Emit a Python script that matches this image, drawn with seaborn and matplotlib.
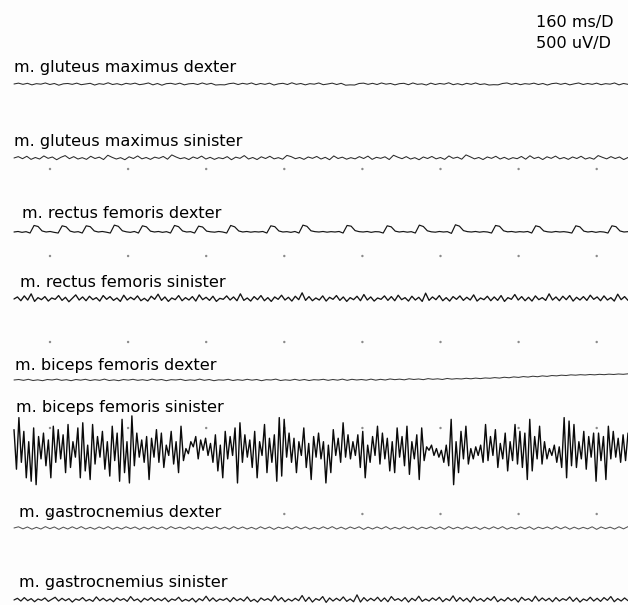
import numpy as np
import pandas as pd
import seaborn as sns
import matplotlib
matplotlib.use("Agg")
import matplotlib.pyplot as plt

# ---------------- data (µV samples) ----------------
labels = ["m. gluteus maximus dexter", "m. gluteus maximus sinister",
          "m. rectus femoris dexter", "m. rectus femoris sinister",
          "m. biceps femoris dexter", "m. biceps femoris sinister",
          "m. gastrocnemius dexter", "m. gastrocnemius sinister"]

gluteus_dex = [0,5,-2,4,-5,2,-1,6,-3,3,-7,1,3,-2,5,-4,0,4,-6,2,-2,7,-3,2,-5,4,-1,5,-4,0,6,-5,3,-7,2,4,-2,5,-5,1,
               3,-3,6,-2,4,-6,-4,-5,2,5,-3,4,-1,6,-4,3,-2,5,-6,1,4,-3,7,-2,3,-5,2,-1,6,-4,0,5,-3,4,-7,-5,-6,3,5,-2,
               4,-3,6,-1,3,-5,2,4,-4,6,-2,1,-6,5,-3,3,-1,7,-4,2,-5,4,-2,6,-3,1,-6,-4,-5,3,6,-2,4,-4,2,-1,5,-3,
               3,-6,2,5,-2,4,-5,1,6,-3,3,-2,5,-4,2,-1,6,-5,3,-2]

gluteus_sin = [0,8,-4,10,-8,3,-6,12,-2,6,-10,4,14,-4,8,-6,2,-8,10,-3,5,-9,16,4,-6,2,-10,7,-3,12,-5,3,-8,5,-2,9,-7,18,6,-4,
               2,-9,6,-3,11,-6,4,-8,2,-4,8,-10,5,-2,14,-6,3,-9,7,-3,10,-5,2,-7,15,8,-4,3,-8,6,-2,9,-6,4,-10,12,-3,5,-7,2,
               -5,8,-3,11,-8,4,-2,7,-9,16,5,-4,8,-6,2,-10,6,-3,9,-5,3,-8,12,-2,5,-7,18,7,-5,3,-9,6,-2,10,-6,4,-8,2,
               -4,9,-7,13,-3,5,-9,7,-2,11,-5,3,-8,6,-3,10,-6,2,-7,14,4,-5,8,-3,6,-9,3]

rectus_dex = [0,3,-2,2,-6, 38,32,6,0, 3,-2,-6, 36,30,5,-1, 2,-6, 36,31,6,0, 3,-1,-6, 40,33,7,1, -2,3,-6,
              36,30,5,0, 3,-2,2,-6, 38,31,6,0, 2,-6, 34,29,5,1, -1,3,0,-6, 38,30,6,0, 3,-1,2,0,3,-6,
              36,31,6,0, 2,-2,3,-6, 40,33,7,2, 0,3,-1,2,0,3,-6, 38,34,8,2, 0,3,-2,2,1,-6, 36,30,5,0,
              3,-1,2,-6, 40,32,7,1, -1,3,0,2,-8, 42,34,8,2, 0,3,-1,2,0,-6, 38,33,7,1, 3,-1,2,0,3,-6,
              36,30,6,1, -1,3,0,2,-1,-6, 36,30,5,0, 3,-2,2,0,-6, 36,31,6,0,2]

rectus_sin = [0,12,-10,18,-6,30,-14,8,-4,14,-12,6,-2,20,-8,10,-16,4,24,-6,12,-10,16,-4,8,-12,20,-2,14,-8,6,-14,22,-6,10,-4,18,-10,4,-12,
              16,-2,28,-8,12,-14,6,-4,20,-10,8,-6,14,-12,24,-4,10,-8,16,-14,4,-2,18,-6,12,-10,30,-8,6,-12,14,-4,20,-10,8,-14,12,-2,22,-6,
              10,-12,16,-4,36,-8,14,-10,6,-6,18,-12,10,-2,20,-8,12,-14,8,-4,16,-10,26,-6,12,-12,6,-2,18,-8,14,-10,22,-4,8,-12,16,-6,10,-14,
              34,-8,12,-4,20,-10,8,-12,14,-2,18,-8,10,-6,24,-12,6,-4,16,-10,12,-8,20,-14,8,-2,26,-6,14,-10,10,-12,18,-4,8,-8,30,-6,12,-10,
              16,-4,20,-12,10,-6,14,-8,22,-2,12,-10,18,-6,8,-12,28,-4,14,-8]

biceps_dex = [0,3,-2,4,-3,1,-4,3,0,5,-2,2,-4,3,-1,4,-3,2,-2,5,-3,1,-4,3,-1,4,-2,2,-3,5,-1,3,-4,2,0,4,-3,1,-2,5,
              -2,3,-4,1,-1,4,-3,2,-2,4,-1,3,-4,2,0,5,-3,1,-2,4,-2,3,-3,2,0,4,-2,3,-1,5,-2,4,0,3,-1,5,-1,4,0,6,
              2,5,1,7,3,6,2,8,4,7,3,9,5,8,6,10,7,11,8,12,10,14,11,16,13,18,15,20,17,22,19,24,21,26,24,28,26,30,28,31,
              29,32,30,33,31,34,32,35,33,36]

biceps_sin = [130,-100,200,-60,120,-150,60,-170,140,-190,90,-40,110,-80,70,-150,150,-60,130,-40,100,-120,160,-90,60,-30,140,-150,170,-110,
              40,-160,160,-70,90,-30,120,-100,60,-140,150,-50,110,-170,190,-120,60,-180,210,-80,110,-30,70,-60,90,-160,80,-30,130,-60,
              110,-90,40,-20,120,-70,60,-120,150,-50,
              20,-10,60,30,90,-40,70,10,80,-20,50,-60,100,-110,40,-150,120,-40,90,-20,140,-180,170,-60,100,-30,70,-90,120,-150,
              60,-20,160,-120,80,-60,100,-170,200,-140,190,-30,110,-60,80,-120,60,-20,140,-90,50,-160,
              90,-30,110,-40,60,-180,40,-120,130,-20,80,-60,170,-30,100,-40,60,-20,100,-90,120,-150,40,-60,90,-20,150,-70,110,-40,
              80,-110,60,-120,140,-30,90,-80,150,-130,60,-40,100,-160,140,-50,
              30,10,40,-20,20,-30,10,-60,40,-80,190,-190,60,-120,120,-40,150,-70,20,-40,30,-20,40,-60,160,-50,90,-20,130,-90,
              50,-40,110,-110,60,-50,160,-70,120,-90,110,-160,190,-110,90,-40,150,-70,60,-40,20,-20,40,-60,30,-90,200,-150,180,-80,
              160,-90,60,-40,120,-100,90,-30,110,-170,110,-50,90,-160,150,-40,120,-30,80,-60,100,-50,110]

gastro_dex = [0,7,-5,6,-7,4,-6,8,-4,6,-8,5,-6,7,-5,8,-6,4,-7,6,-5,8,-7,5,-6,7,-4,6,-8,5,-6,7,-5,6,-7,8,-4,5,-6,7,
              -6,5,-8,6,-4,7,-6,5,-7,8,-5,6,-6,4,-7,7,-5,6,-8,5,-4,7,-6,8,-5,6,-7,4,-6,7,-5,8,-6,5,-7,6,-4,7,-8,5,
              -6,6,-5,8,-7,4,-6,7,-5,6,-8,5,-4,7,-6,6,-7,8,-5,5,-6,7,-4,6,-8,5,-6,7,-5,8,-7,4,-6,6,-5,7,-8,5,
              -4,6,-6,8,-5,7,-7,5,-6,4,-5,7,-8,6,-4,5,-6,7,-5,8]

gastro_sin = [0,10,-6,14,-4,8,-10,6,-2,12,-8,4,16,-6,10,-4,8,-12,6,-2,14,-6,4,-8,18,-4,10,-6,6,-10,12,-2,8,-8,20,-4,6,-12,10,-2,
              14,-6,8,-4,12,-10,6,-2,16,-8,4,-6,10,-12,8,-4,22,-6,12,-8,6,-2,10,-10,14,-4,8,-6,18,-8,4,-12,12,-2,8,-6,24,-4,14,-10,
              6,-6,10,-4,26,-8,16,-12,8,-2,20,-14,12,-6,10,-4,18,-8,6,-10,30,-12,14,-6,10,-4,16,-8,12,-10,20,-2,8,-6,14,-12,10,-4,22,-8,
              6,-6,12,-2,16,-10,8,-4,24,-8,14,-6,10,-12,18,-4,8,-8,12,-2,20,-10,6,-6,14,-4,10,-12,16,-2,8,-8,22,-6,12,-4,10,-10,14,-6,
              8,-2,18,-8,12,-12,6,-4,16,-6,10,-8,14,-2,20,-10,8,-6,12,-4]

series = [gluteus_dex, gluteus_sin, rectus_dex, rectus_sin,
          biceps_dex, biceps_sin, gastro_dex, gastro_sin]

scale_texts = ["160 ms/D", "500 uV/D"]

# ---------------- layout ----------------
W, H = 628, 605
MS_PER_PX = 160 / 78.1          # 160 ms per division (78 px)
UV_PER_PX = 500 / 86.0          # 500 uV per division (86 px)
trace_y = [84, 158, 232, 299, 380, 452, 528, 600]
label_y = [72, 146, 218, 287, 370, 412, 517, 587]
label_x = [14, 14, 22, 20, 15, 16, 19, 19]
trace_colors = ["#2a2a2a", "#2a2a2a", "#141414", "#141414", "#3a3a3a", "#0a0a0a", "#555555", "#1a1a1a"]
trace_lw = [0.75, 0.75, 0.85, 0.95, 0.75, 1.0, 0.75, 0.9]
x_start_px, x_end_px = 14, 628
dot_rows = [169, 256, 342, 428, 514]
dot_cols = [50 + 78.1 * k for k in range(8)]

sns.set_theme(style="white")
plt.rcParams["font.family"] = ["DejaVu Sans"]

fig = plt.figure(figsize=(W / 100, H / 100), dpi=100, facecolor="#fdfdfd")
ax = fig.add_axes([0, 0, 1, 1])
ax.set_facecolor("#fdfdfd")
ax.set_xlim(0, W * MS_PER_PX)
ax.set_ylim(H * UV_PER_PX, 0)
ax.set_axis_off()

# grid division dots
dots = pd.DataFrame([(c * MS_PER_PX, r * UV_PER_PX) for r in dot_rows for c in dot_cols],
                    columns=["t", "y"])
sns.scatterplot(data=dots, x="t", y="y", s=3, color="#8a8a8a", edgecolor="none", ax=ax, legend=False)

# traces
for i, vals in enumerate(series):
    t = np.linspace(x_start_px * MS_PER_PX, x_end_px * MS_PER_PX, len(vals))
    df = pd.DataFrame({"t": t, "y": trace_y[i] * UV_PER_PX - np.asarray(vals, float)})
    sns.lineplot(data=df, x="t", y="y", sort=False, estimator=None,
                 color=trace_colors[i], linewidth=trace_lw[i], ax=ax, legend=False)
    ax.text(label_x[i] * MS_PER_PX, label_y[i] * UV_PER_PX, labels[i],
            fontsize=11.6, color="#000000", va="baseline", ha="left")

ax.text(536 * MS_PER_PX, 27 * UV_PER_PX, scale_texts[0], fontsize=11.6, color="#000000", va="baseline")
ax.text(536 * MS_PER_PX, 48 * UV_PER_PX, scale_texts[1], fontsize=11.6, color="#000000", va="baseline")

fig.savefig("out.png", dpi=100, facecolor=fig.get_facecolor())
